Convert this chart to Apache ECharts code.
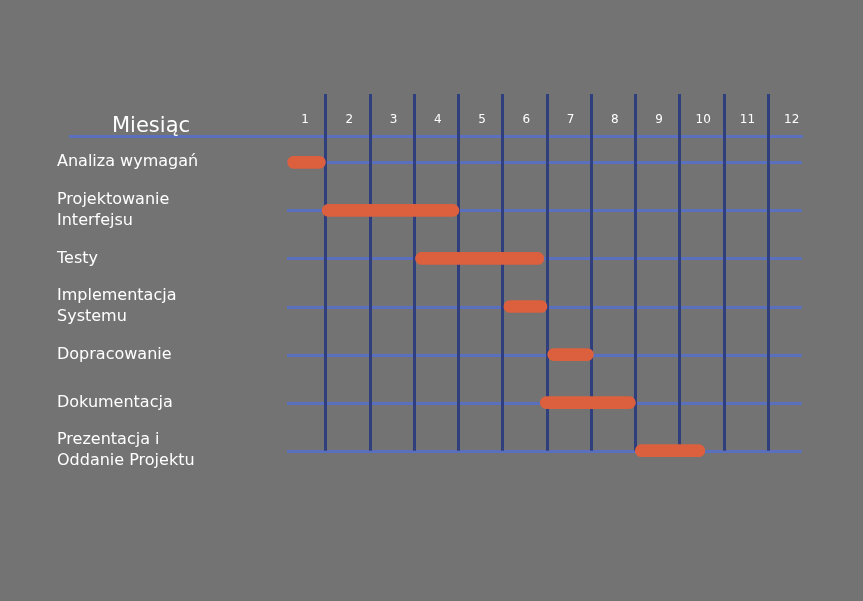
<!DOCTYPE html>
<html><head><meta charset="utf-8">
<script src="https://cdn.jsdelivr.net/npm/echarts@6/dist/echarts.min.js"></script>
<style>html,body{margin:0;padding:0;background:#737373;}#c{width:863px;height:601px;}</style>
</head><body><div id="c"></div>
<script>
const headerTitle = 'Miesiąc';
const months = ['1','2','3','4','5','6','7','8','9','10','11','12'];
const tasks = ['Analiza wymagań', 'Projektowanie\nInterfejsu', 'Testy', 'Implementacja\nSystemu', 'Dopracowanie', 'Dokumentacja', 'Prezentacja i\nOddanie Projektu'];
const startMonth = [0.13, 0.91, 3.02, 5.02, 6.01, 5.84, 7.99];
const endMonth = [1.0, 4.02, 5.94, 6.01, 7.06, 8.01, 9.58];

const FONT = 'DejaVu Sans';
const VLINE = '#2f3f7d';
const HLINE = '#5a6fbd';
const BAR = '#dd603e';

const chart = echarts.init(document.getElementById('c'), null, {renderer: 'canvas'});
const vSplit = {show: true, showMinLine: false, showMaxLine: false, lineStyle: {color: VLINE, width: 3}};
chart.setOption({
  backgroundColor: '#737373',
  animation: false,
  title: {text: headerTitle, left: 107, top: 111, textStyle: {color: '#ffffff', fontFamily: FONT, fontSize: 21, fontWeight: 'normal'}},
  graphic: [{type: 'rect', shape: {x: 69, y: 135, width: 734, height: 3}, style: {fill: HLINE}, z: 1}],
  grid: [
    {left: 281.5, right: 50.7, top: 94, height: 68.3},
    {left: 281.5, right: 50.7, top: 162.3, height: 288.4}
  ],
  xAxis: [
    {gridIndex: 0, type: 'value', min: 0, max: 12, interval: 1, axisLine: {show: false}, axisTick: {show: false}, axisLabel: {show: false}, splitLine: vSplit, z: 1},
    {gridIndex: 0, type: 'category', data: months, position: 'top', offset: -26, axisLine: {show: false}, axisTick: {show: false}, splitLine: {show: false},
      axisLabel: {color: '#ffffff', fontFamily: FONT, fontSize: 12, margin: 0, verticalAlign: 'middle', padding: [0, 0, 0, 3]}},
    {gridIndex: 1, type: 'value', min: 0, max: 12, interval: 1, axisLine: {show: false}, axisTick: {show: false}, axisLabel: {show: false}, splitLine: vSplit, z: 1}
  ],
  yAxis: [
    {gridIndex: 0, type: 'value', min: 0, max: 1, show: false},
    {gridIndex: 1, type: 'category', data: tasks, inverse: true, boundaryGap: false,
      axisLine: {show: false}, axisTick: {show: false}, splitLine: {show: false},
      axisLabel: {color: '#ffffff', fontFamily: FONT, fontSize: 16, align: 'left', margin: 224.5, lineHeight: 21}}
  ],
  series: [
    {
      type: 'custom', xAxisIndex: 2, yAxisIndex: 1, z: 0, silent: true,
      data: tasks.map((t, i) => [i]),
      encode: {y: 0},
      renderItem: function (params, api) {
        const cs = params.coordSys;
        const y = Math.round(api.coord([0, api.value(0)])[1]);
        return {type: 'rect', shape: {x: cs.x + 5.5, y: y - 1, width: cs.width - 16, height: 3}, style: {fill: HLINE}};
      }
    },
    {
      type: 'custom', xAxisIndex: 2, yAxisIndex: 1, z: 3,
      data: tasks.map((t, i) => [i, startMonth[i], endMonth[i]]),
      encode: {y: 0, x: [1, 2]},
      renderItem: function (params, api) {
        const i = api.value(0);
        const p0 = api.coord([api.value(1), i]);
        const p1 = api.coord([api.value(2), i]);
        const h = 12.7;
        return {type: 'rect', shape: {x: p0[0], y: p0[1] - h / 2, width: p1[0] - p0[0], height: h, r: h / 2}, style: {fill: BAR}};
      }
    }
  ]
});
</script></body></html>
